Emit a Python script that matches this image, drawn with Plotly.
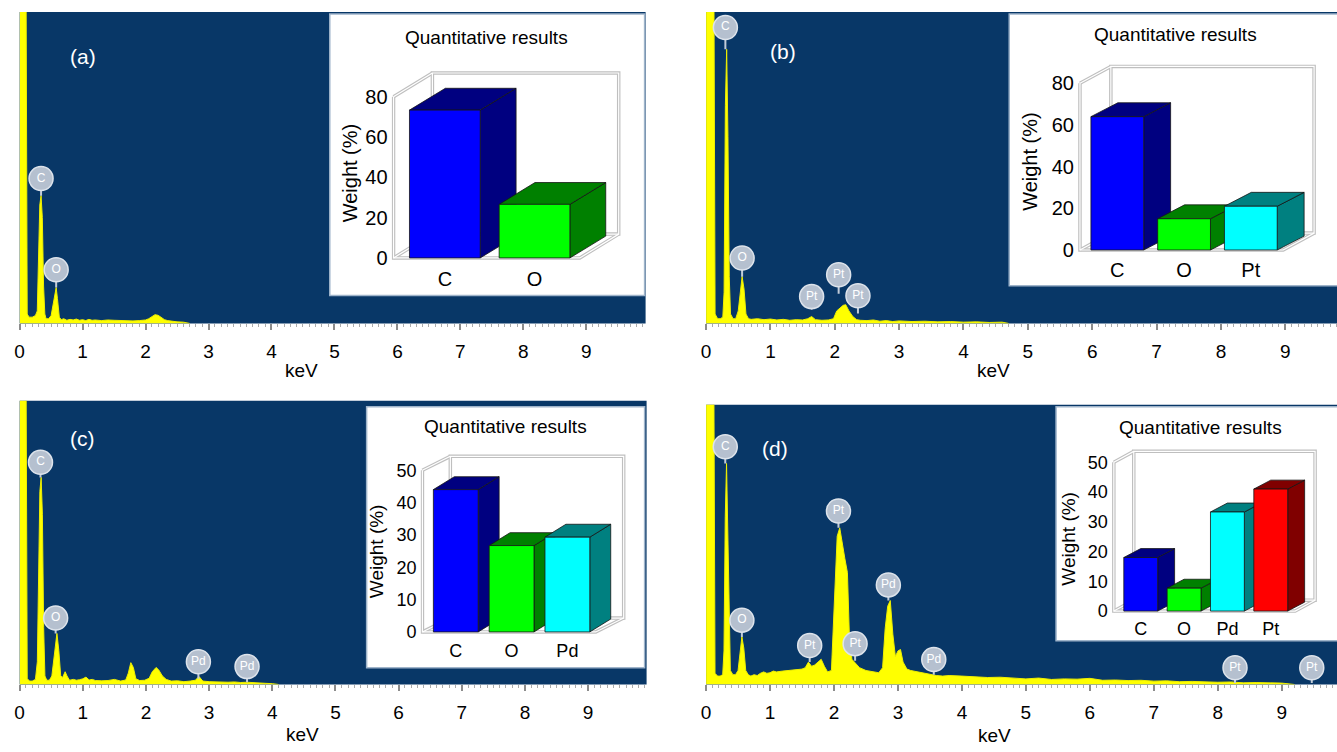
import plotly.graph_objects as go

W, H = 1337, 752
FONT = "Liberation Sans, Arial, Helvetica, sans-serif"
NAVY = "#083767"
YELLOW = "#ffff00"

# ---------------- EDS spectra (keV, intensity in % of panel height) ----------------
A_E = [0.00, 0.05, 0.10, 0.12, 0.15, 0.20, 0.25, 0.28, 0.30, 0.32,
       0.34, 0.36, 0.38, 0.40, 0.42, 0.46, 0.50, 0.53, 0.56, 0.58,
       0.60, 0.63, 0.66, 0.70, 0.75, 0.80, 0.85, 0.90, 0.95, 1.00,
       1.05, 1.10, 1.15, 1.20, 1.30, 1.40, 1.50, 1.60, 1.70, 1.80,
       1.90, 2.00, 2.05, 2.10, 2.15, 2.20, 2.25, 2.30, 2.35, 2.40,
       2.50, 2.60, 2.70]
A_I = [120, 120, 120, 3, 2, 2, 2.5, 4, 20, 38,
       41, 34, 12, 3, 1.5, 1.5, 2.5, 6, 10, 11.5,
       8, 2, 1.2, 1.5, 1.0, 1.3, 1.1, 1.4, 1.0, 1.2,
       0.9, 1.3, 1.0, 1.1, 0.9, 1.1, 1.0, 0.9, 1.0, 0.8,
       0.9, 1.1, 1.5, 2.2, 2.8, 2.6, 1.8, 1.2, 0.9, 0.7,
       0.5, 0.4, 0.0]

B_E = [0.00, 0.06, 0.12, 0.14, 0.18, 0.22, 0.26, 0.28, 0.30, 0.32,
       0.34, 0.36, 0.38, 0.42, 0.46, 0.50, 0.53, 0.56, 0.59, 0.62,
       0.66, 0.70, 0.80, 0.90, 1.00, 1.10, 1.20, 1.30, 1.40, 1.50,
       1.58, 1.64, 1.70, 1.80, 1.90, 1.98, 2.03, 2.08, 2.13, 2.17,
       2.22, 2.28, 2.34, 2.40, 2.50, 2.60, 2.70, 2.80, 2.90, 3.00,
       3.20, 3.40, 3.60, 3.80, 4.00, 4.20, 4.40, 4.60, 4.70]
B_I = [120, 120, 120, 3, 1.5, 1.5, 2, 10, 70, 88,
       60, 15, 3, 1.5, 1.5, 4, 10, 15, 11, 3,
       1.5, 1.3, 1.5, 1.2, 1.4, 1.1, 1.3, 1.0, 1.2, 1.1,
       1.5, 2.2, 1.2, 1.0, 1.1, 1.5, 4.0, 4.8, 5.8, 6.0,
       4.0, 2.2, 1.2, 1.0, 0.9, 1.1, 0.7, 0.9, 0.6, 0.8,
       0.6, 0.7, 0.5, 0.6, 0.4, 0.5, 0.3, 0.4, 0.0]

C_E = [0.00, 0.05, 0.10, 0.12, 0.16, 0.20, 0.25, 0.28, 0.30, 0.32,
       0.34, 0.36, 0.38, 0.40, 0.43, 0.47, 0.51, 0.54, 0.57, 0.59,
       0.62, 0.65, 0.68, 0.72, 0.75, 0.79, 0.85, 0.90, 0.95, 1.00,
       1.05, 1.10, 1.15, 1.20, 1.30, 1.40, 1.50, 1.55, 1.60, 1.68,
       1.72, 1.76, 1.80, 1.84, 1.90, 1.98, 2.05, 2.10, 2.16, 2.20,
       2.26, 2.32, 2.40, 2.50, 2.60, 2.70, 2.78, 2.84, 2.90, 3.00,
       3.10, 3.20, 3.30, 3.40, 3.50, 3.60, 3.70, 3.80, 3.90, 4.00,
       4.10]
C_I = [120, 120, 120, 2, 1.2, 1.2, 1.8, 8, 40, 68,
       73, 60, 20, 3, 1.5, 1.5, 3, 9, 16, 18,
       12, 3, 2.5, 4.5, 3, 1.5, 1.8, 1.5, 1.7, 2.0,
       2.6, 1.6, 1.8, 1.4, 1.3, 1.4, 1.8, 1.6, 1.2, 1.6,
       4, 7.7, 6, 2, 1.4, 1.5, 2.2, 4.5, 6, 5.2,
       3, 1.8, 1.2, 1.3, 1.0, 1.2, 1.5, 2.8, 1.2, 1.0,
       0.9, 1.0, 0.8, 0.9, 0.7, 0.8, 0.6, 0.5, 0.4, 0.3,
       0.0]

D_E = [0.00, 0.06, 0.12, 0.14, 0.18, 0.22, 0.26, 0.28, 0.30, 0.32,
       0.34, 0.36, 0.38, 0.42, 0.46, 0.50, 0.53, 0.56, 0.59, 0.62,
       0.66, 0.70, 0.75, 0.80, 0.85, 0.90, 0.95, 1.00, 1.05, 1.10,
       1.20, 1.30, 1.40, 1.50, 1.55, 1.60, 1.65, 1.70, 1.75, 1.80,
       1.85, 1.90, 1.96, 2.00, 2.05, 2.09, 2.13, 2.17, 2.21, 2.24,
       2.28, 2.34, 2.40, 2.50, 2.60, 2.70, 2.76, 2.80, 2.84, 2.88,
       2.92, 2.96, 3.00, 3.04, 3.08, 3.14, 3.20, 3.30, 3.40, 3.50,
       3.60, 3.70, 3.80, 4.00, 4.20, 4.40, 4.60, 4.80, 5.00, 5.20,
       5.40, 5.60, 5.80, 6.00, 6.20, 6.40, 6.60, 6.80, 7.00, 7.20,
       7.40, 7.60, 7.80, 8.00, 8.20, 8.40, 8.60, 8.80, 9.00, 9.20]
D_I = [120, 120, 120, 4, 3, 3, 3.5, 12, 60, 79,
       55, 20, 5, 3.5, 3.5, 5, 12, 17, 13, 5,
       3.5, 3, 3.5, 3.2, 4, 4.5, 4, 4.2, 4.8, 4.5,
       4.8, 5, 5.2, 5.5, 6, 8, 6.5, 7, 8, 9,
       6.5, 4.5, 5, 28, 53, 56, 50, 45, 40, 18,
       9, 7.5, 6, 5, 4.5, 4.2, 6, 20, 28, 30,
       18, 10, 12, 12.5, 8, 5.5, 5, 4.5, 4, 3.5,
       3.2, 3, 3.2, 3, 2.7, 2.5, 2.6, 2.3, 2.0, 2.3,
       1.8, 2.0, 1.9, 2.2, 1.5, 1.6, 1.4, 1.5, 1.2, 1.3,
       1.0, 1.1, 0.9, 0.8, 0.9, 0.6, 0.7, 0.5, 0.5, 0.0]

# ---------------- peak labels (element, keV, label height, peak top) ----------------
LA_T = ["C", "O"]
LA_E = [0.34, 0.58]
LA_Y = [46.5, 17.2]
LA_END = [41, 11.5]

LB_T = ["C", "O", "Pt", "Pt", "Pt"]
LB_E = [0.30, 0.56, 1.64, 2.06, 2.36]
LB_Y = [95, 21, 8.6, 15.6, 8.9]
LB_END = [88, 15, 4.4, 9.5, 3.2]

LC_T = ["C", "O", "Pd", "Pd"]
LC_E = [0.33, 0.57, 2.83, 3.60]
LC_Y = [78.3, 23.4, 8.0, 6.3]
LC_END = [73, 18, 2.0, 0.8]

LD_T = ["C", "O", "Pt", "Pt", "Pt", "Pd", "Pd", "Pt", "Pt"]
LD_E = [0.30, 0.56, 1.62, 2.07, 2.33, 2.85, 3.56, 8.27, 9.47]
LD_Y = [85, 23, 13.9, 62, 14.6, 35.6, 8.9, 6.0, 6.0]
LD_END = [79, 17, 8, 56, 8.5, 30, 3.5, 0.5, 0.5]

X_TICKS = [0, 1, 2, 3, 4, 5, 6, 7, 8, 9]

# ---------------- quantitative results (weight %) ----------------
QA_CAT = ["C", "O"]
QA_VAL = [73.4, 26.6]
QB_CAT = ["C", "O", "Pt"]
QB_VAL = [64, 15, 21]
QC_CAT = ["C", "O", "Pd"]
QC_VAL = [44, 26.7, 29.3]
QD_CAT = ["C", "O", "Pd", "Pt"]
QD_VAL = [18, 7.7, 33.3, 41]
Q_TICKS_80 = [0, 20, 40, 60, 80]
Q_TICKS_50 = [0, 10, 20, 30, 40, 50]

FRONT = ["#0000ff", "#00ff00", "#00ffff", "#ff0000"]
DARK = ["#000080", "#008000", "#008080", "#800000"]

# ---------------- layout geometry (pixels) ----------------
panels = [
    dict(E=A_E, I=A_I, lt=LA_T, le=LA_E, ly=LA_Y, lend=LA_END, l=14.7, r=643, t=12, b=326,
         kpx=63.2, tag="(a)", tag_xy=(78, 57), kev_xy=(298, 373)),
    dict(E=B_E, I=B_I, lt=LB_T, le=LB_E, ly=LB_Y, lend=LB_END, l=703.7, r=1337, t=12, b=326,
         kpx=64.6, tag="(b)", tag_xy=(781, 52), kev_xy=(992, 373)),
    dict(E=C_E, I=C_I, lt=LC_T, le=LC_E, ly=LC_Y, lend=LC_END, l=14.7, r=644, t=404, b=690,
         kpx=63.4, tag="(c)", tag_xy=(78, 442), kev_xy=(299, 740)),
    dict(E=D_E, I=D_I, lt=LD_T, le=LD_E, ly=LD_Y, lend=LD_END, l=703.7, r=1337, t=408, b=690,
         kpx=64.2, tag="(d)", tag_xy=(773, 452), kev_xy=(993, 741)),
]

insets = [
    dict(cat=QA_CAT, val=QA_VAL, ticks=Q_TICKS_80, box=(326, 14, 642, 298), title_xy=(483, 38),
         ylab_xy=(346, 174), ax=390, c0=441.5, sp=90, bw=71, floor_r=577, y0=260, ppu=2.03,
         bdx=36, bdy=22, fdx=39, fdy=24, dom=(388, 624, 60, 266), fs=20, fsl=20),
    dict(cat=QB_CAT, val=QB_VAL, ticks=Q_TICKS_80, box=(1008, 14, 1345, 288), title_xy=(1175, 35),
         ylab_xy=(1029, 163), ax=1079, c0=1116.5, sp=67, bw=53, floor_r=1283, y0=252, ppu=2.1,
         bdx=27, bdy=14, fdx=31, fdy=17, dom=(1077, 1320, 56, 257), fs=20, fsl=20),
    dict(cat=QC_CAT, val=QC_VAL, ticks=Q_TICKS_50, box=(363, 410, 642, 673), title_xy=(502, 430),
         ylab_xy=(373, 556), ax=419, c0=452.5, sp=56, bw=45, floor_r=593, y0=637, ppu=3.26,
         bdx=21, bdy=13, fdx=28, fdy=14, dom=(417, 628, 452, 642), fs=18, fsl=19),
    dict(cat=QD_CAT, val=QD_VAL, ticks=Q_TICKS_50, box=(1055, 410, 1345, 646), title_xy=(1200, 431),
         ylab_xy=(1068, 543), ax=1113, c0=1140, sp=43.5, bw=34, floor_r=1295, y0=616, ppu=3.0,
         bdx=17, bdy=9, fdx=20, fdy=11, dom=(1111, 1318, 448, 620), fs=18, fsl=19),
]


def px_x(px):
    return px / W


def px_y(py):
    return 1 - py / H


def ann(text, xy, size, color="black", angle=0):
    return dict(text=text, x=px_x(xy[0]), y=px_y(xy[1]), xref="paper", yref="paper",
                xanchor="center", yanchor="middle", showarrow=False, textangle=angle,
                font=dict(family=FONT, size=size, color=color))


fig = go.Figure()
layout = dict(width=W, height=H, margin=dict(l=0, r=0, t=0, b=0), paper_bgcolor="white",
              plot_bgcolor="rgba(0,0,0,0)", showlegend=False, shapes=[], annotations=[],
              font=dict(family=FONT, color="black"))

# ---------------- spectra panels ----------------
for k, p in enumerate(panels, start=1):
    sfx = "" if k == 1 else str(k)
    xr, yr = "x" + sfx, "y" + sfx
    layout["xaxis" + sfx] = dict(
        domain=[px_x(p["l"]), px_x(p["r"])], range=[0, (p["r"] - p["l"]) / p["kpx"]], anchor=yr,
        tickmode="array", tickvals=X_TICKS, ticks="outside", ticklen=6, tickwidth=1.5,
        tickcolor="#8c8c8c", minor=dict(dtick=0.1, tick0=0, ticks="outside", ticklen=3,
                                        tickwidth=1, tickcolor="#ababab"),
        showgrid=False, zeroline=False, showline=False, ticklabelstandoff=5,
        tickfont=dict(family=FONT, size=19, color="black"), fixedrange=True)
    layout["yaxis" + sfx] = dict(domain=[px_y(p["b"]), px_y(p["t"])], range=[0, 100], anchor=xr,
                                 visible=False, fixedrange=True)
    layout["shapes"].append(dict(type="rect", xref="paper", yref="paper", x0=px_x(p["l"]),
                                 x1=px_x(p["r"]), y0=px_y(p["b"]), y1=px_y(p["t"]),
                                 fillcolor=NAVY, line=dict(width=0), layer="below"))
    fig.add_trace(go.Scatter(x=p["E"], y=p["I"], mode="lines", fill="tozeroy", fillcolor=YELLOW,
                             line=dict(color="#eeee00", width=1), xaxis=xr, yaxis=yr,
                             hoverinfo="skip"))
    fig.add_trace(go.Scatter(
        x=p["le"], y=p["ly"], mode="markers+text", text=p["lt"], textposition="middle center",
        textfont=dict(family=FONT, size=12, color="white"),
        marker=dict(size=24, color="#b5c0cf", line=dict(color="#dde3eb", width=1.5)),
        error_y=dict(type="data", symmetric=False, array=[0] * len(p["ly"]),
                     arrayminus=[a - b for a, b in zip(p["ly"], p["lend"])],
                     color="#c3ccd8", thickness=2, width=0),
        cliponaxis=False, xaxis=xr, yaxis=yr, hoverinfo="skip"))
    layout["annotations"].append(ann(p["tag"], p["tag_xy"], 21, "white"))
    layout["annotations"].append(ann("keV", p["kev_xy"], 19))

# ---------------- inset 3D bar charts ----------------
for j, q in enumerate(insets):
    k = 5 + j
    sfx = str(k)
    xr, yr = "x" + sfx, "y" + sfx
    dl, dr, dt, db = q["dom"]
    sp, ppu, c0, y0 = q["sp"], q["ppu"], q["c0"], q["y0"]
    n = len(q["cat"])
    layout["xaxis" + sfx] = dict(
        domain=[px_x(dl), px_x(dr)], range=[(dl - c0) / sp, (dr - c0) / sp], anchor=yr,
        tickmode="array", tickvals=list(range(n)), ticktext=q["cat"], ticks="",
        showgrid=False, zeroline=False, showline=False, ticklabelstandoff=1,
        tickfont=dict(family=FONT, size=q["fs"], color="black"), fixedrange=True)
    layout["yaxis" + sfx] = dict(
        domain=[px_y(db), px_y(dt)], range=[(y0 - db) / ppu, (y0 - dt) / ppu], anchor=xr,
        tickmode="array", tickvals=q["ticks"], ticks="", showgrid=False, zeroline=False,
        showline=False, ticklabelstandoff=3,
        tickfont=dict(family=FONT, size=q["fs"], color="black"), fixedrange=True)
    bx0, by0, bx1, by1 = q["box"]
    layout["shapes"].append(dict(type="rect", xref="paper", yref="paper", x0=px_x(bx0),
                                 x1=px_x(bx1), y0=px_y(by1), y1=px_y(by0), fillcolor="white",
                                 line=dict(color="#9fb4ca", width=1.5), layer="below"))
    layout["annotations"].append(ann("Quantitative results", q["title_xy"], 19))
    layout["annotations"].append(ann("Weight (%)", q["ylab_xy"], q["fsl"], angle=-90))

    # 3D frame
    L = (q["ax"] - c0) / sp
    R = (q["floor_r"] - c0) / sp
    T = q["ticks"][-1]
    fx = q["fdx"] / sp
    fy = q["fdy"] / ppu
    fxs = [L + fx, L + fx, R + fx, R + fx, L + fx, None, L, L + fx, None, L, L + fx, None,
           L, L, R, R + fx]
    fys = [fy, T + fy, T + fy, fy, fy, None, T, T + fy, None, 0, fy, None,
           T, 0, 0, fy]
    fig.add_trace(go.Scatter(x=fxs, y=fys, mode="lines", line=dict(color="#bfbfbf", width=3.5),
                             xaxis=xr, yaxis=yr, hoverinfo="skip", connectgaps=False))
    fig.add_trace(go.Scatter(x=fxs, y=fys, mode="lines", line=dict(color="white", width=1.2),
                             xaxis=xr, yaxis=yr, hoverinfo="skip", connectgaps=False))

    # bars: side, top, front per category (left to right)
    hw = q["bw"] / 2 / sp
    bx = q["bdx"] / sp
    by = q["bdy"] / ppu
    for i, v in enumerate(q["val"]):
        c = i
        faces = [
            ([c + hw, c + hw + bx, c + hw + bx, c + hw, c + hw], [0, by, v + by, v, 0], DARK[i]),
            ([c - hw, c + hw, c + hw + bx, c - hw + bx, c - hw], [v, v, v + by, v + by, v], DARK[i]),
            ([c - hw, c + hw, c + hw, c - hw, c - hw], [0, 0, v, v, 0], FRONT[i]),
        ]
        for fxv, fyv, col in faces:
            fig.add_trace(go.Scatter(x=fxv, y=fyv, mode="lines", fill="toself", fillcolor=col,
                                     line=dict(color="#151515", width=0.8), xaxis=xr, yaxis=yr,
                                     hoverinfo="skip"))

fig.update_layout(**layout)
fig.write_html("out.html", config={"displayModeBar": False},
               post_script="document.body.style.margin='0px';document.body.style.padding='0px';")
